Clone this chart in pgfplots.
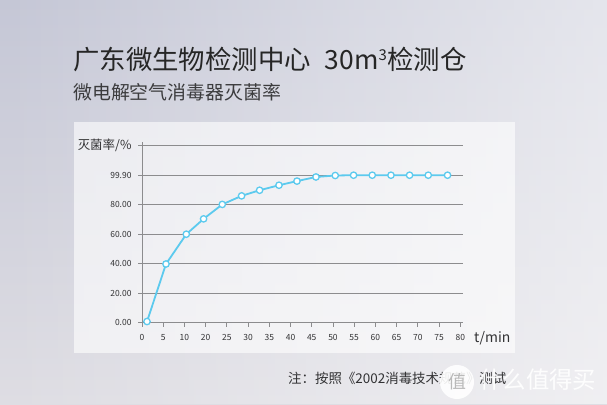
\documentclass[border=0pt]{standalone}
\usepackage{pgfplots}
\pgfplotsset{compat=1.18}
\usepackage{fontspec}
\setmainfont{Noto Sans CJK SC}
\usetikzlibrary{fadings}
\definecolor{bgtop}{RGB}{197,199,214}
\definecolor{bgbot}{RGB}{222,221,227}
\definecolor{titc}{RGB}{38,38,38}
\definecolor{subc}{RGB}{60,60,62}
\definecolor{labc}{RGB}{50,50,52}
\definecolor{gridc}{RGB}{140,140,142}
\definecolor{linec}{RGB}{92,202,238}
\begin{document}
\begin{tikzpicture}[x=1bp,y=1bp]
\useasboundingbox (0,0) rectangle (607,404);
\shade[top color=bgtop, bottom color=bgbot] (0,0) rectangle (607,404);
\fill[white, opacity=0.55, path fading=west] (0,0) rectangle (607,404);
\fill[white, opacity=0.6] (74,51) rectangle (515,282);
\node[anchor=west, text=titc, inner sep=0] at (73,344) {\fontsize{26.5}{28}\selectfont 广东微生物检测中心\hspace{14bp}30m\textsuperscript{\fontsize{15}{15}\selectfont 3}检测仓};
\node[anchor=west, text=subc, inner sep=0] at (73,312) {\fontsize{19}{21}\selectfont 微电解空气消毒器灭菌率};
\begin{axis}[
  at={(142bp,81.3bp)}, anchor=south west, scale only axis,
  width=321bp, height=177bp,
  xmin=0, xmax=15.13, ymin=0, ymax=6,
  axis x line*=bottom, axis y line*=left,
  axis line style={gridc, line width=0.8bp, -},
  y axis line style={shorten >=-4bp, shorten <=-4bp},
  xtick={0,...,15},
  xticklabels={0,5,10,20,25,30,35,40,45,50,55,60,65,70,75,80},
  ytick={0,...,6},
  yticklabels={0.00,20.00,40.00,60.00,80.00,99.90,{\fontsize{12.5}{14}\selectfont 灭菌率/\%}},
  ymajorgrids, grid style={gridc, line width=0.8bp},
  tick align=outside, major tick length=4bp,
  tick style={gridc, line width=0.8bp},
  ticklabel style={font=\fontsize{8.5}{10}\selectfont, text=labc},
  xticklabel style={yshift=-4bp},
  yticklabel style={xshift=-3bp},
  clip=false,
]
\addplot[color=linec, line width=1.8bp, mark=*, mark size=3.2bp,
  mark options={fill=white, draw=linec, line width=1.3bp}] coordinates {
  (0.236,0.04) (1.131,1.99) (2.088,3.0) (2.903,3.52) (3.784,4.01)
  (4.694,4.30) (5.542,4.49) (6.456,4.66) (7.304,4.80) (8.200,4.94)
  (9.109,4.99) (9.972,5.0) (10.853,5.0) (11.734,5.0) (12.611,5.0)
  (13.492,5.0) (14.401,5.0)
};
\end{axis}
\node[anchor=west, text=labc, inner sep=0] at (474,66) {\fontsize{14}{16}\selectfont t/min};
\node[anchor=west, text=labc, inner sep=0] at (288,26) {\fontsize{13.5}{15}\selectfont 注：按照《2002消毒技术规范》测试};
\fill[white, opacity=0.9] (457,22) circle (17);
\node[text=gray!55, inner sep=0] at (457,22) {\fontsize{18}{18}\selectfont 值};
\node[anchor=west, text=white, opacity=0.9, inner sep=0] at (479,24) {\fontsize{23.5}{25}\selectfont 什么值得买};
\end{tikzpicture}
\end{document}
